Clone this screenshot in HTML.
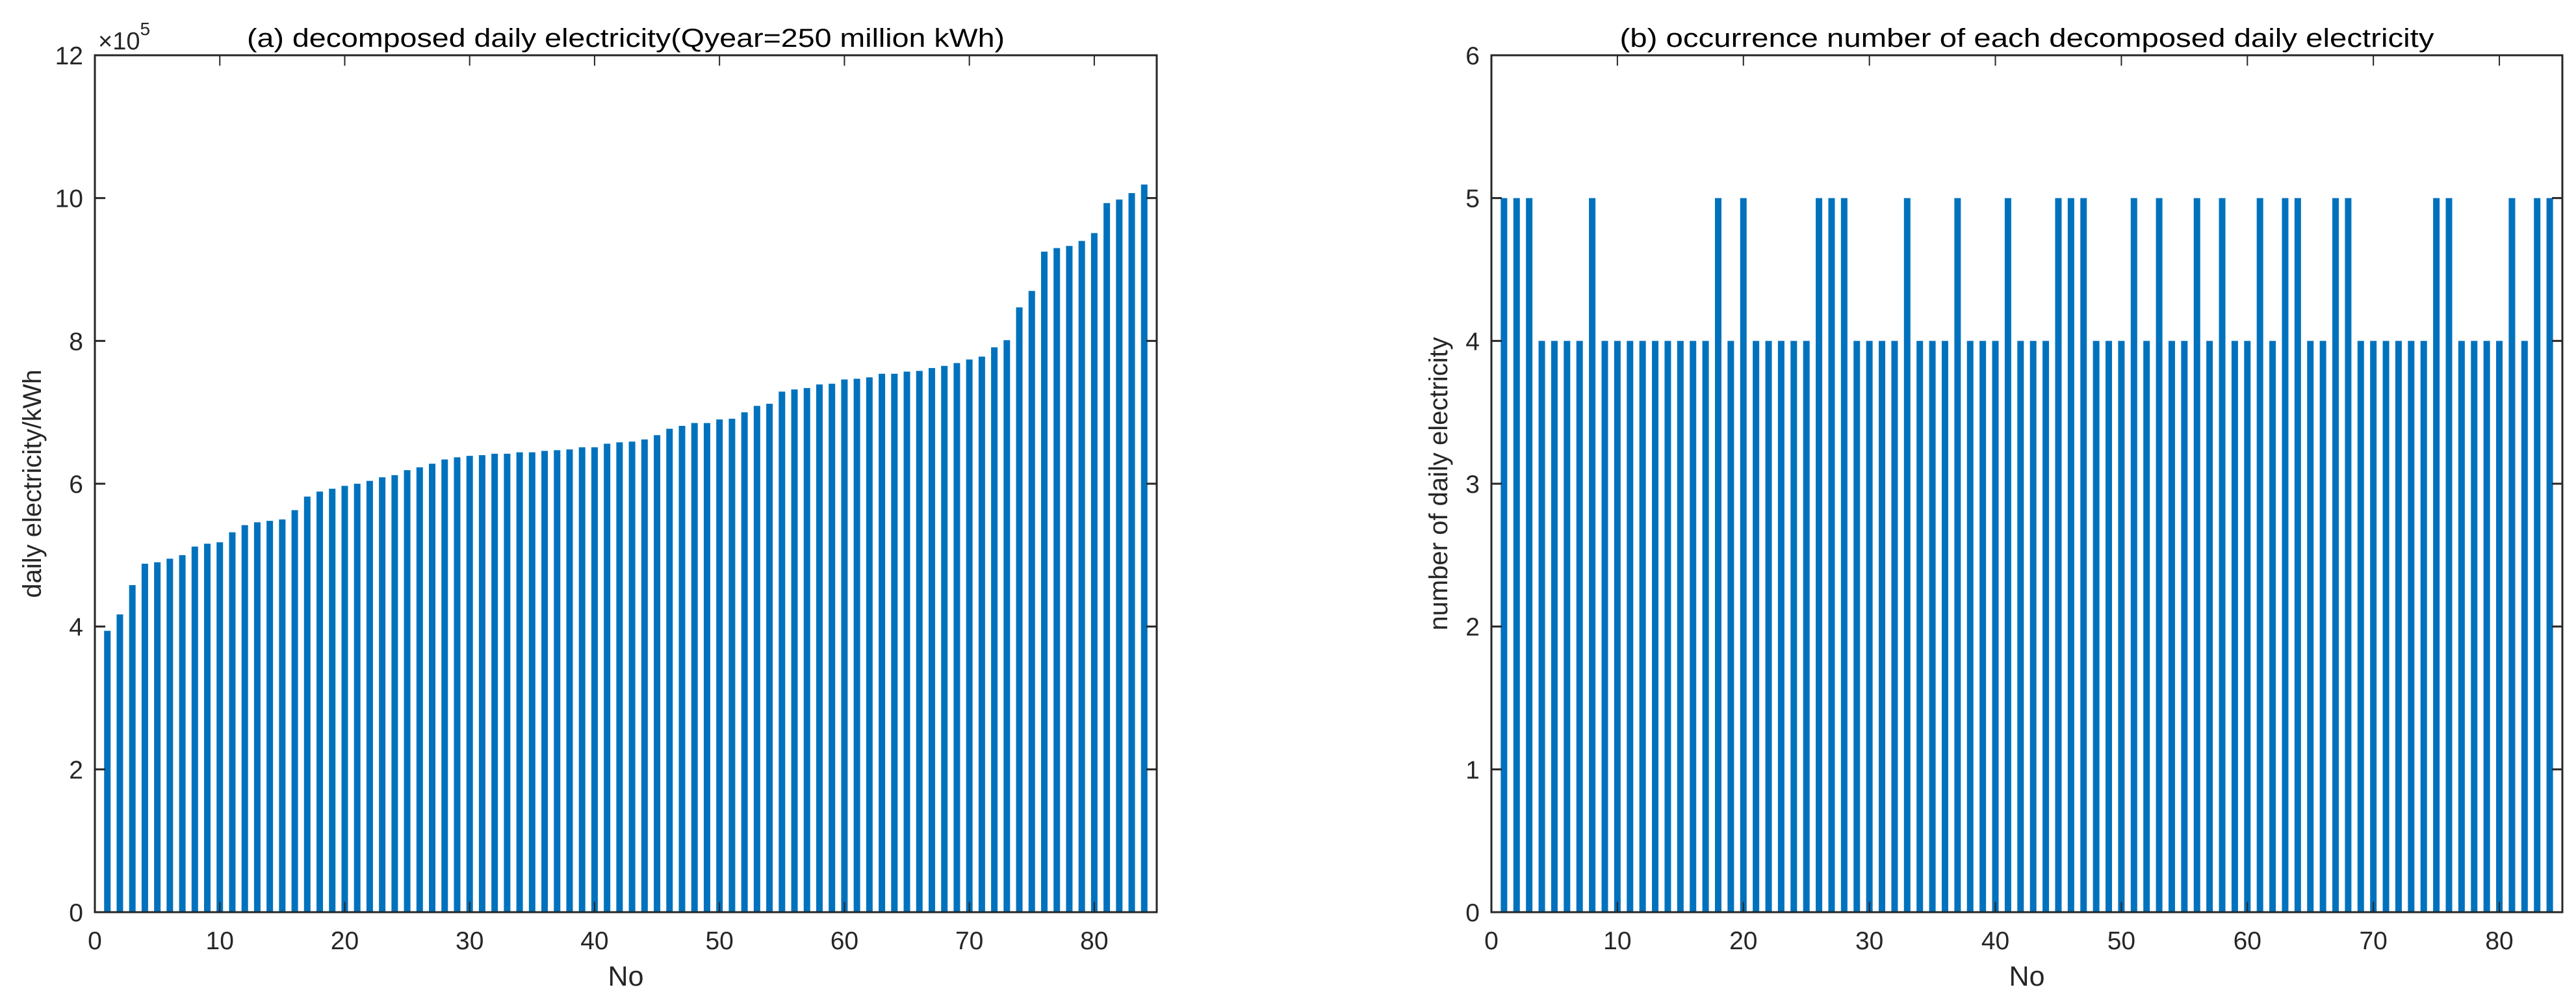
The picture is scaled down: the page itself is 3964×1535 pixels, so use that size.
<!DOCTYPE html>
<html><head><meta charset="utf-8"><style>
html,body{margin:0;padding:0;background:#fff;}
svg{display:block;font-family:"Liberation Sans",Arial,sans-serif;}
</style></head><body>
<svg id="fig" width="3964" height="1535" viewBox="0 0 3964 1535" xmlns="http://www.w3.org/2000/svg">
<rect width="3964" height="1535" fill="#fff"/>
<g id="chartA"></g>
<g id="chartB"></g>
</svg>
<script>
const dailyValues = [3.94,4.17,4.58,4.88,4.90,4.95,5.00,5.12,5.16,5.18,5.32,5.42,5.46,5.48,5.50,5.63,5.82,5.89,5.93,5.97,6.00,6.04,6.09,6.12,6.19,6.23,6.28,6.34,6.37,6.39,6.40,6.42,6.42,6.44,6.44,6.46,6.47,6.48,6.51,6.51,6.56,6.58,6.59,6.62,6.68,6.77,6.81,6.85,6.85,6.90,6.91,7.00,7.09,7.12,7.29,7.32,7.34,7.39,7.40,7.46,7.47,7.49,7.54,7.54,7.57,7.58,7.62,7.65,7.69,7.74,7.78,7.91,8.01,8.47,8.70,9.25,9.30,9.33,9.40,9.51,9.93,9.98,10.07,10.19];
const countValues = [5,5,5,4,4,4,4,5,4,4,4,4,4,4,4,4,4,5,4,5,4,4,4,4,4,5,5,5,4,4,4,4,5,4,4,4,5,4,4,4,5,4,4,4,5,5,5,4,4,4,5,4,5,4,4,5,4,5,4,4,5,4,5,5,4,4,5,5,4,4,4,4,4,4,5,5,4,4,4,4,5,4,5,5];
const xTicks = [0,10,20,30,40,50,60,70,80];
const yTicksA = [0,2,4,6,8,10,12];
const yTicksB = [0,1,2,3,4,5,6];
const NS = "http://www.w3.org/2000/svg";
function mk(parent, tag, attrs, text){
  const e = document.createElementNS(NS, tag);
  for (const k in attrs) e.setAttribute(k, attrs[k]);
  if (text !== undefined) e.textContent = text;
  parent.appendChild(e);
  return e;
}
function drawChart(g, cfg){
  const {x0,x1,y0,y1,xmax,ymax,values,yTicks,title,titleW,ylabel,ylabelX,prefix} = cfg;
  const xs = v => x0 + (v/xmax)*(x1-x0);
  const ys = v => y0 - (v/ymax)*(y0-y1);
  const bw = 10;
  values.forEach((v,i)=>{
    const r = mk(g,'rect',{x:xs(i+1)-bw/2,y:ys(v),width:bw,height:y0-ys(v),fill:'#0072BD'});
    
    
  });
  const box = mk(g,'rect',{x:x0,y:y1,width:x1-x0,height:y0-y1,fill:'none',stroke:'#262626','stroke-width':3});
  
  
  xTicks.forEach(t=>{
    const x = xs(t);
    mk(g,'line',{x1:x,y1:y0,x2:x,y2:y0-16,stroke:'#262626','stroke-width':2});
    mk(g,'line',{x1:x,y1:y1,x2:x,y2:y1+16,stroke:'#262626','stroke-width':2});
    const tl = mk(g,'text',{x:x,y:y0+57,'font-size':39,'text-anchor':'middle',fill:'#262626'},String(t));
    
    
  });
  yTicks.forEach(t=>{
    const y = ys(t);
    mk(g,'line',{x1:x0,y1:y,x2:x0+16,y2:y,stroke:'#262626','stroke-width':3});
    mk(g,'line',{x1:x1,y1:y,x2:x1-16,y2:y,stroke:'#262626','stroke-width':3});
    const tl = mk(g,'text',{x:x0-18,y:y+14,'font-size':39,'text-anchor':'end',fill:'#262626'},String(t));
    
    
  });
  const tt = mk(g,'text',{x:(x0+x1)/2,y:y1-13,'font-size':40,'text-anchor':'middle',fill:'#000',textLength:titleW,lengthAdjust:'spacingAndGlyphs'},title);
  
  
  const xl = mk(g,'text',{x:(x0+x1)/2,y:y0+113,'font-size':43,'text-anchor':'middle',fill:'#262626'},'No');
  
  
  const yl = mk(g,'text',{x:0,y:0,'font-size':40,'text-anchor':'middle',fill:'#262626',transform:`translate(${ylabelX},${(y0+y1)/2}) rotate(-90)`},ylabel);
  
  
}
drawChart(document.getElementById('chartA'),{x0:146,x1:1780,y0:1403,y1:85,xmax:85,ymax:12,values:dailyValues,yTicks:yTicksA,
  title:'(a) decomposed daily electricity(Qyear=250 million kWh)',titleW:1166,ylabel:'daily electricity/kWh',ylabelX:63,prefix:'a'});
drawChart(document.getElementById('chartB'),{x0:2295,x1:3943,y0:1403,y1:85,xmax:85,ymax:6,values:countValues,yTicks:yTicksB,
  title:'(b) occurrence number of each decomposed daily electricity',titleW:1253,ylabel:'number of daily electricity',ylabelX:2227,prefix:'b'});
const ga = document.getElementById('chartA');
const ex = mk(ga,'text',{x:151,y:76,'font-size':38,fill:'#262626'},'×10');


mk(ex,'tspan',{dy:-22,'font-size':28},'5');
</script>
</body></html>
